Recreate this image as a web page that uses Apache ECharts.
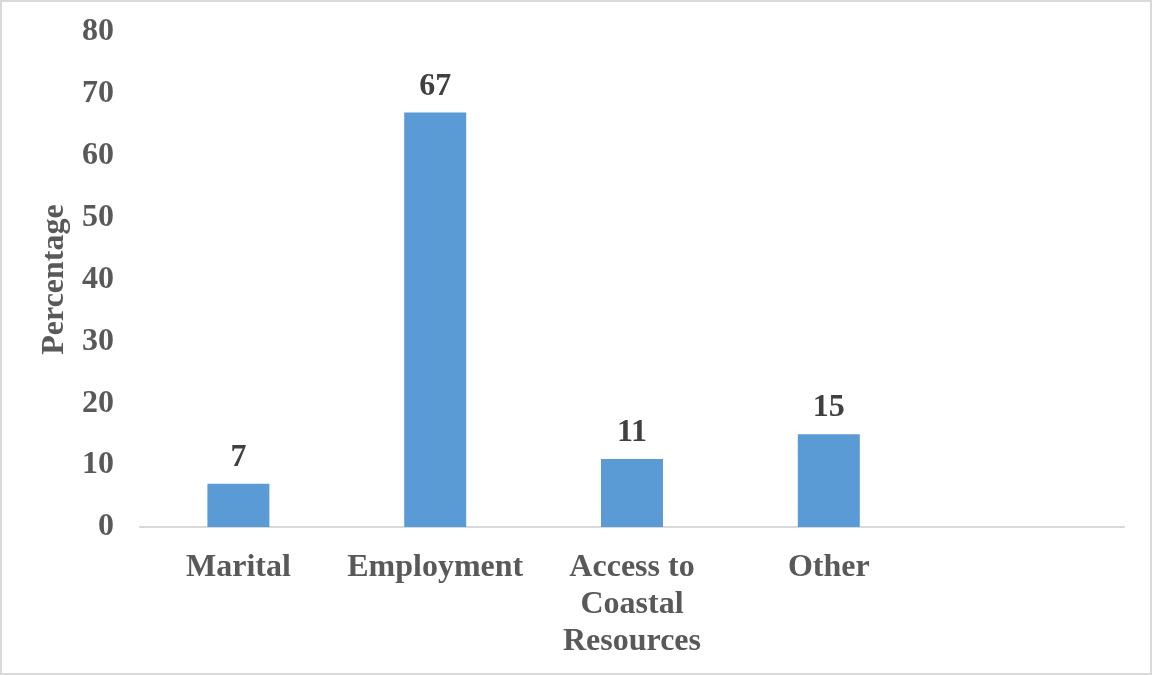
<!DOCTYPE html>
<html>
<head>
<meta charset="utf-8">
<script src="https://cdn.jsdelivr.net/npm/echarts@6/dist/echarts.min.js"></script>
<style>
  html, body { margin: 0; padding: 0; background: #fff; }
  #chart { width: 1152px; height: 675px; box-sizing: border-box; border: 2px solid #d9d9d9; }
</style>
</head>
<body>
<div id="chart"></div>
<script>
// Reasons given, share of respondents (%)
const categories = ['Marital', 'Employment', 'Access to\nCoastal\nResources', 'Other', ''];
const percentages = [7, 67, 11, 15, null];
const yTicks = { min: 0, max: 80, interval: 10 };

const serif = '"Liberation Serif", "Times New Roman", serif';
const chart = echarts.init(document.getElementById('chart'));
chart.setOption({
  animation: false,
  grid: { left: 138, right: 26, top: 30, bottom: 146 },
  xAxis: {
    type: 'category',
    data: categories,
    axisLine: { lineStyle: { color: '#d9d9d9', width: 2 } },
    axisTick: { show: false },
    axisLabel: {
      color: '#595959', fontFamily: serif, fontWeight: 'bold', fontSize: 32,
      lineHeight: 37, margin: 22, interval: 0
    }
  },
  yAxis: {
    type: 'value',
    min: yTicks.min, max: yTicks.max, interval: yTicks.interval,
    name: 'Percentage',
    nameLocation: 'middle',
    nameGap: 67,
    nameTextStyle: { color: '#595959', fontFamily: serif, fontWeight: 'bold', fontSize: 32 },
    splitLine: { show: false },
    axisLine: { show: false },
    axisTick: { show: false },
    axisLabel: {
      color: '#595959', fontFamily: serif, fontWeight: 'bold', fontSize: 32,
      margin: 26, padding: [4, 0, 0, 0]
    }
  },
  series: [{
    type: 'bar',
    data: percentages,
    barWidth: '31.5%',
    itemStyle: { color: '#5b9bd5' },
    label: {
      show: true, position: 'top', distance: 10,
      color: '#404040', fontFamily: serif, fontWeight: 'bold', fontSize: 32
    }
  }]
});
</script>
</body>
</html>
